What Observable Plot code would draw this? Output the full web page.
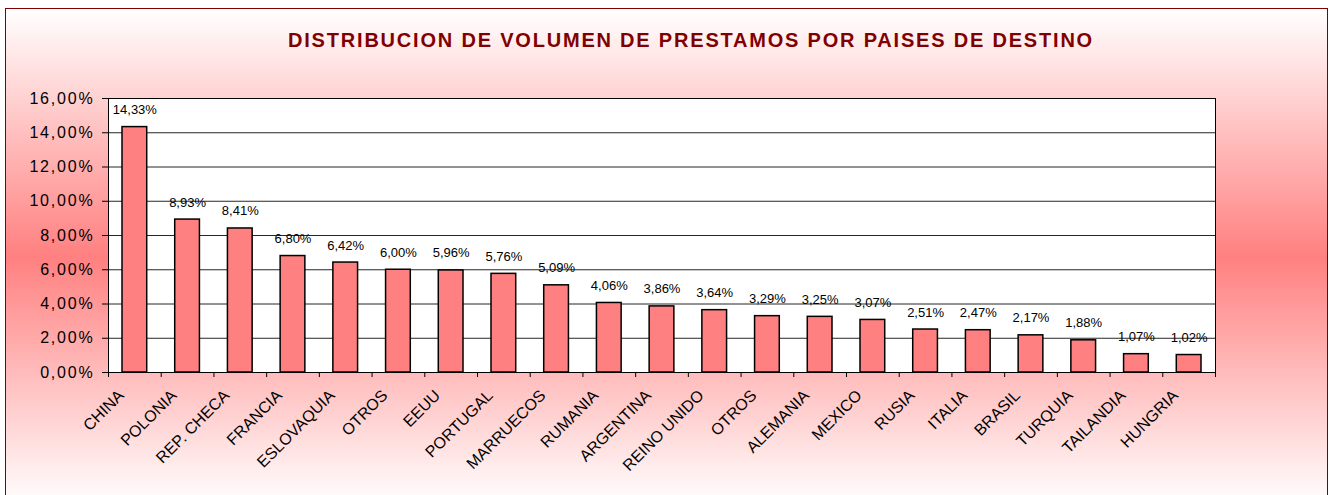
<!DOCTYPE html>
<html><head><meta charset="utf-8">
<script src="https://cdn.jsdelivr.net/npm/d3@7"></script>
<script src="https://cdn.jsdelivr.net/npm/@observablehq/plot@0.6"></script>
<style>
html,body{margin:0;padding:0;background:#fff;width:1329px;height:495px;overflow:hidden;font-family:"Liberation Sans",Arial,sans-serif;}
#box{position:absolute;left:5px;top:8px;width:1323px;height:498px;border:1px solid #800000;box-sizing:border-box;
 background:linear-gradient(to bottom,#fff 0%,#ff8080 50%,#fff 100%);}
#title{position:absolute;left:691px;top:30px;transform:translateX(-50%);white-space:nowrap;font-family:"Liberation Sans",Arial,sans-serif;
 font-weight:bold;font-size:20px;line-height:20px;letter-spacing:1.8px;color:#800000;}
#chart{position:absolute;left:0;top:0;}
#chart svg{background:transparent;overflow:visible;}
g[aria-label="y-axis tick label"] text{letter-spacing:1.8px;}
g[aria-label="value labels"] text{letter-spacing:0.7px;}
g[aria-label="category labels"] text{letter-spacing:1.8px;}
</style>
</head><body>
<div id="box"></div>
<div id="title">DISTRIBUCION DE VOLUMEN DE PRESTAMOS POR PAISES DE DESTINO</div>
<div id="chart"></div>
<script>
const titleText = "DISTRIBUCION DE VOLUMEN DE PRESTAMOS POR PAISES DE DESTINO";
const categories = ["CHINA","POLONIA","REP. CHECA","FRANCIA","ESLOVAQUIA","OTROS","EEUU","PORTUGAL","MARRUECOS","RUMANIA","ARGENTINA","REINO UNIDO","OTROS","ALEMANIA","MEXICO","RUSIA","ITALIA","BRASIL","TURQUIA","TAILANDIA","HUNGRIA"];
const values = [14.33,8.93,8.41,6.80,6.42,6.00,5.96,5.76,5.09,4.06,3.86,3.64,3.29,3.25,3.07,2.51,2.47,2.17,1.88,1.07,1.02];
const yTicks = [0,2,4,6,8,10,12,14,16];

const rows = categories.map((name, i) => ({i, name, value: values[i]}));
const pct = v => v.toFixed(2).replace(".", ",") + "%";

const chart = Plot.plot({
  width: 1329,
  height: 495,
  marginLeft: 108,
  marginRight: 114,
  marginTop: 98,
  marginBottom: 123,
  style: {background: "transparent", fontFamily: "'Liberation Sans', Arial, sans-serif", color: "#000", overflow: "visible"},
  x: {type: "linear", domain: [0, categories.length]},
  y: {domain: [0, 16]},
  marks: [
    Plot.frame({fill: "white"}),
    Plot.ruleY(yTicks.filter(d => d > 0 && d < 16), {stroke: "#000", strokeWidth: 1, strokeOpacity: 0.85}),
    Plot.rectY(rows, {x1: d => d.i, x2: d => d.i + 1, y: "value", insetLeft: 14, insetRight: 14, fill: "#FF8080", stroke: "#000", strokeWidth: 1.5}),
    Plot.frame({stroke: "#000", strokeWidth: 1}),
    Plot.axisY({ticks: yTicks, tickSize: 6, tickPadding: 8, tickFormat: pct, fontSize: 16, label: null, stroke: "#000"}),
    Plot.axisX({ticks: d3.range(0, categories.length + 1), tickSize: 5, tickFormat: () => "", label: null, stroke: "#000"}),
    Plot.text(rows, {x: d => d.i + 0.5, y: 0, text: "name", rotate: -45, textAnchor: "end", lineAnchor: "bottom", dx: -10, dy: 24, fontSize: 16, fill: "#000", ariaLabel: "category labels"}),
    Plot.text(rows, {x: d => d.i + 0.5, y: "value", text: d => pct(d.value), lineAnchor: "bottom", dy: -13, fontSize: 13, fill: "#000", ariaLabel: "value labels"})
  ]
});
document.getElementById("chart").appendChild(chart);
</script>
</body></html>
